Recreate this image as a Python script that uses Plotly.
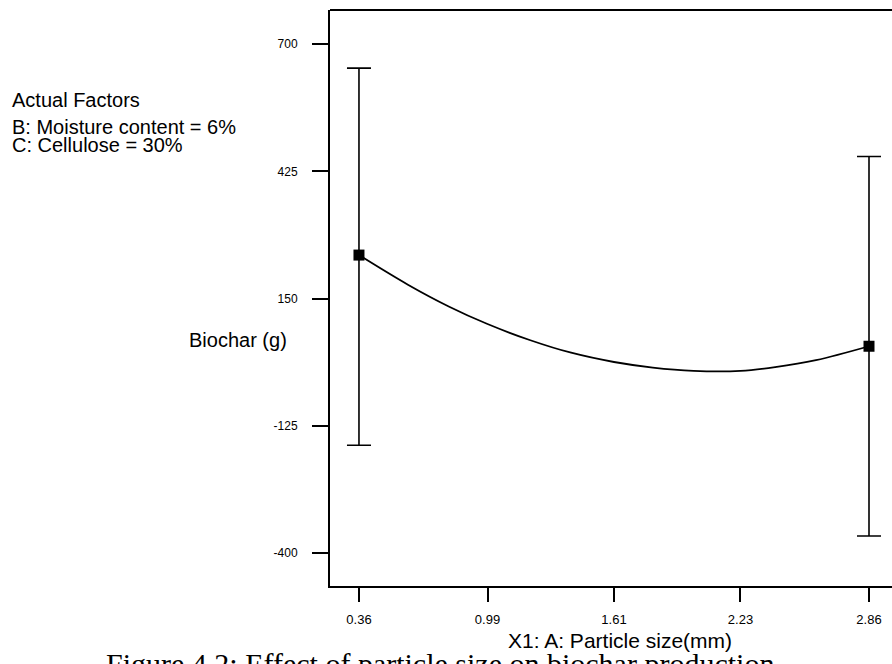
import plotly.graph_objects as go

# Design points (means with error bars)
point_x = [0.36, 2.86]
point_y = [244, 47]
err_plus = [404, 410]
err_minus = [411, 410]

# Predicted curve
curve_x = [0.36, 0.60, 0.80, 0.99, 1.20, 1.40, 1.61, 1.80, 2.00, 2.23, 2.40, 2.60, 2.86]
curve_y = [244, 180, 133, 95, 60, 33, 13, 1, -6, -6, 2, 17, 47]

x_ticks = [0.36, 0.99, 1.61, 2.23, 2.86]
x_tick_labels = ["0.36", "0.99", "1.61", "2.23", "2.86"]
y_ticks = [-400, -125, 150, 425, 700]
y_tick_labels = ["-400", "-125", "150", "425", "700"]

W, H = 892, 664
ML, MR, MT, MB = 330, 0, 10, 78
PW, PH = W - ML - MR, H - MT - MB

def px(x):
    return (x - ML) / PW

def py(y):
    return (H - MB - y) / PH

fig = go.Figure()
fig.add_trace(go.Scatter(x=curve_x, y=curve_y, mode="lines",
                         line=dict(color="black", width=1.8, shape="spline"),
                         hoverinfo="skip", showlegend=False))
fig.add_trace(go.Scatter(x=point_x, y=point_y, mode="markers",
                         marker=dict(symbol="square", size=11, color="black"),
                         error_y=dict(type="data", array=err_plus, arrayminus=err_minus,
                                      symmetric=False, color="black", thickness=1.6, width=12),
                         showlegend=False))

fig.update_layout(
    width=W, height=H,
    margin=dict(l=ML, r=MR, t=MT, b=MB, pad=0),
    paper_bgcolor="white", plot_bgcolor="white",
    font=dict(family="Liberation Sans, Arial, sans-serif", color="black"),
    xaxis=dict(range=[0.218, 0.36 + (W - 359) / 204.0], tickvals=x_ticks, ticktext=x_tick_labels,
               showgrid=False, zeroline=False, showline=True, linecolor="black", linewidth=2,
               mirror=False, ticks="outside", ticklen=14, tickwidth=2, tickcolor="black",
               tickfont=dict(size=13, family="Liberation Sans Narrow, Arial Narrow, Liberation Sans"),
               ticklabelstandoff=6),
    yaxis=dict(range=[-471, 773.5], tickvals=y_ticks, ticktext=y_tick_labels,
               showgrid=False, zeroline=False, showline=True, linecolor="black", linewidth=2,
               ticks="outside", ticklen=16, tickwidth=2, tickcolor="black",
               tickfont=dict(size=12), ticklabelstandoff=12),
)

# top border line
fig.add_shape(type="line", xref="paper", yref="paper", x0=0, x1=1, y0=1, y1=1,
              line=dict(color="black", width=2))

anns = [
    dict(text="Actual Factors", x=px(10), y=py(100), xanchor="left", yanchor="middle", size=20),
    dict(text="B: Moisture content = 6%", x=px(10), y=py(127), xanchor="left", yanchor="middle", size=20),
    dict(text="C: Cellulose = 30%", x=px(10), y=py(145), xanchor="left", yanchor="middle", size=20),
    dict(text="Biochar (g)", x=px(238), y=py(340), xanchor="center", yanchor="middle", size=20),
]
for a in anns:
    fig.add_annotation(text=a["text"], x=a["x"], y=a["y"], xref="paper", yref="paper",
                       xanchor=a["xanchor"], yanchor=a["yanchor"], showarrow=False,
                       font=dict(size=a["size"], color="black"))

fig.add_annotation(text="Figure 4.2: Effect of particle size on biochar production",
                   x=px(104), y=py(645), xref="paper", yref="paper", xanchor="left", yanchor="top",
                   showarrow=False, font=dict(size=30, family="Liberation Serif, Times New Roman, serif",
                                              color="black"))
fig.add_annotation(text="X1: A: Particle size(mm)", x=px(620), y=py(640), xref="paper", yref="paper",
                   xanchor="center", yanchor="middle", showarrow=False, bgcolor="rgba(0,0,0,0)",
                   font=dict(size=21, family="Liberation Sans Narrow, Arial Narrow, Liberation Sans",
                             color="black"))

fig.write_html("out.html")
